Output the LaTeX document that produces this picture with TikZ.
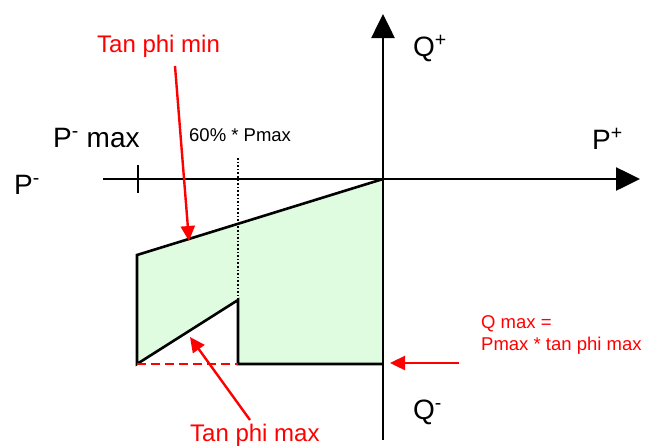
\documentclass[tikz,border=0pt]{standalone}
\usepackage{fontspec}
\setmainfont{Liberation Sans}
\usetikzlibrary{arrows.meta}
\definecolor{areagreen}{RGB}{224,252,224}
\definecolor{labred}{RGB}{255,0,0}
\begin{document}
\begin{tikzpicture}[x=1pt,y=-1pt,
  axis/.style={line width=2.6pt,-{Triangle[length=24pt,width=23pt]}},
  outline/.style={line width=2.6pt,line join=miter},
  redarrow/.style={labred,line width=2.4pt,-{Triangle[length=15pt,width=14pt]}},
  lbl/.style={inner sep=0pt,anchor=base west,font=\fontsize{28}{32}\selectfont},
  redlbl/.style={inner sep=0pt,anchor=base west,text=labred,font=\fontsize{24}{28}\selectfont},
  smalllbl/.style={inner sep=0pt,anchor=base west,font=\fontsize{18.5}{22}\selectfont}]
\useasboundingbox (0,0) rectangle (645,445);
% key points
\coordinate (O) at (383,179);
\coordinate (TL) at (137,255);
\coordinate (BL) at (137,364);
\coordinate (DT) at (238,300);
\coordinate (DB) at (238,364);
\coordinate (BR) at (383,364);
\coordinate (xstart) at (103,179);
\coordinate (xend) at (640,179);
\coordinate (ystart) at (383,440);
\coordinate (yend) at (383,14);
\coordinate (tickT) at (138,165);
\coordinate (tickB) at (138,193);
\coordinate (dotT) at (238,158);
% green area
\fill[areagreen] (O) -- (TL) -- (BL) -- (DT) -- (DB) -- (BR) -- cycle;
% dotted 60% line
\draw[line width=1.6pt,dotted] (dotT) -- (DT);
% outline
\draw[outline] (O) -- (TL) -- (BL) -- (DT) -- (DB) -- (BR);
\draw[labred,line width=2.6pt,dash pattern=on 9pt off 5pt] (BL) -- (DB);
% axes
\draw[axis] (xstart) -- (xend);
\draw[axis] (ystart) -- (yend);
\draw[line width=2.4pt] (tickT) -- (tickB);
% labels
\node[lbl] (qplus) at (413,56) {Q\textsuperscript{+}};
\node[lbl] (pplus) at (592,149) {P\textsuperscript{+}};
\node[lbl] (pminus) at (14,194) {P\textsuperscript{-}};
\node[lbl] (pminmax) at (53,147) {P\textsuperscript{-} max};
\node[lbl] (qminus) at (413,419) {Q\textsuperscript{-}};
\node[smalllbl] (sixty) at (189,141.5) {60\% * Pmax};
\node[redlbl] (tmin) at (97,52) {Tan phi min};
\node[redlbl] (tmax) at (190,441) {Tan phi max};
\node[inner sep=0pt,anchor=base west,text=labred,font=\fontsize{18.5}{22}\selectfont,align=left] (qmax) at (481,350) {Q max =\\[0pt]Pmax * tan phi max};
% red arrows
\coordinate (tminS) at (175,66);
\coordinate (tminE) at (189,241);
\coordinate (tmaxS) at (250,420);
\coordinate (tmaxE) at (190,337);
\coordinate (qmaxS) at (459,363);
\coordinate (qmaxE) at (390,363);
\draw[redarrow] (tminS) -- (tminE);
\draw[redarrow] (tmaxS) -- (tmaxE);
\draw[redarrow] (qmaxS) -- (qmaxE);
\end{tikzpicture}
\end{document}
